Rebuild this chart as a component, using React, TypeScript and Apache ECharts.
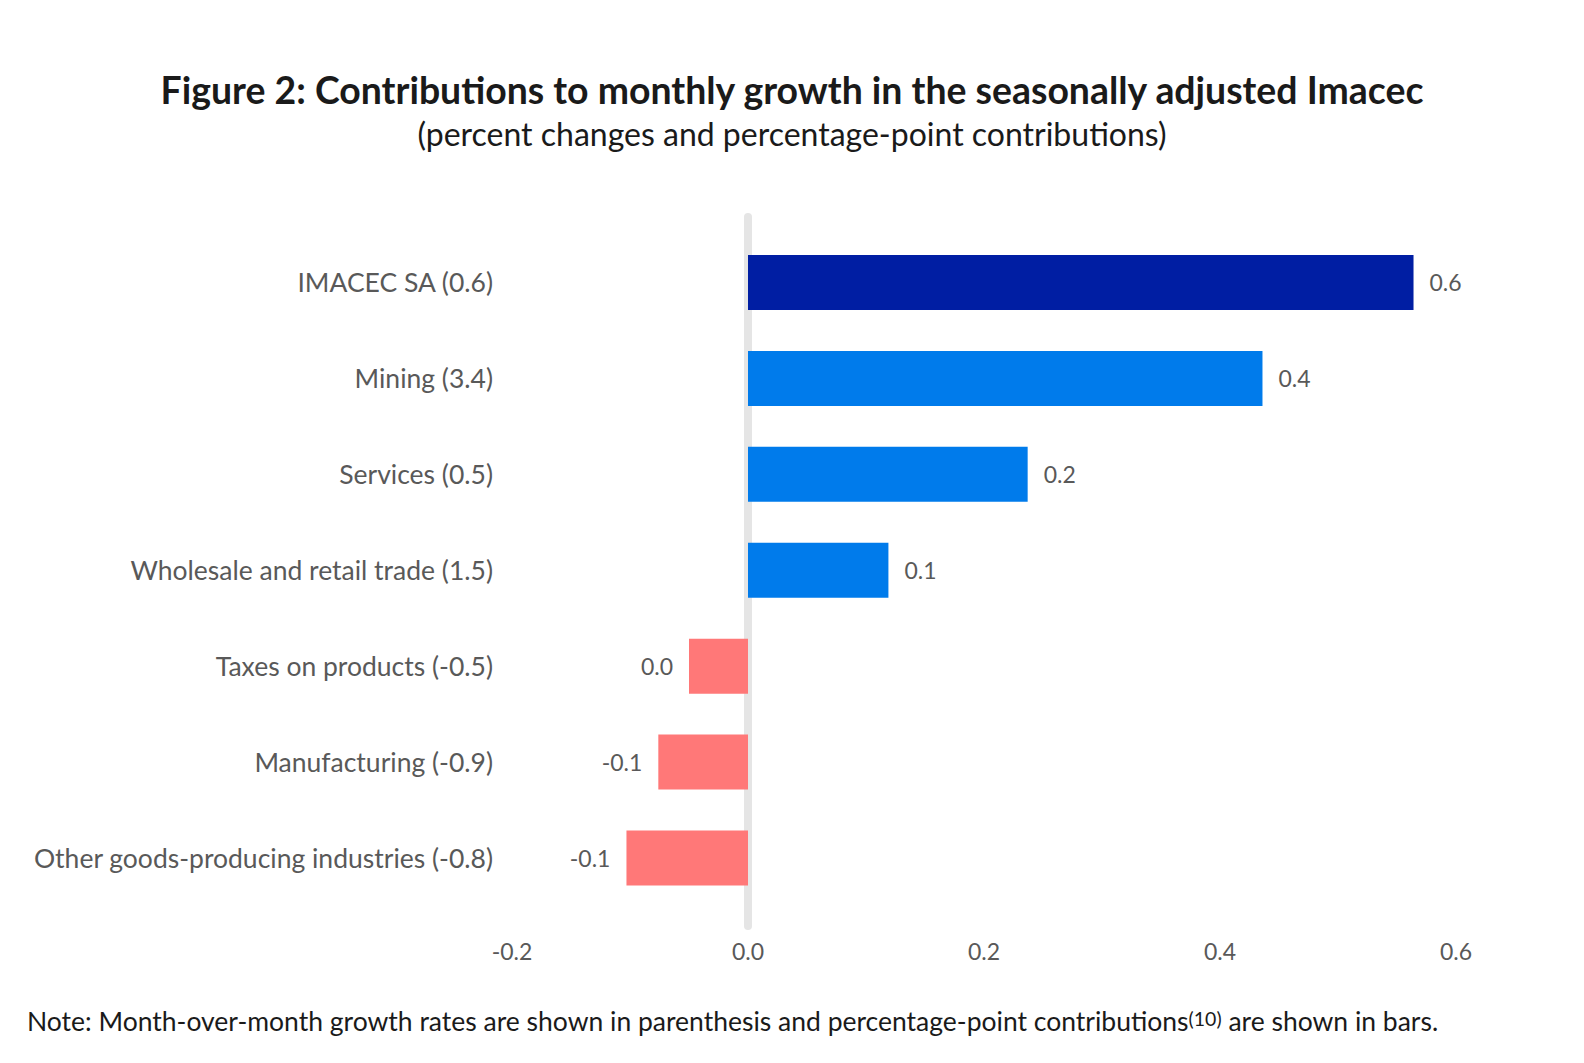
import React, { useEffect, useRef } from "react";
import * as echarts from "echarts";

const categories = [
  "IMACEC SA (0.6)",
  "Mining (3.4)",
  "Services (0.5)",
  "Wholesale and retail trade (1.5)",
  "Taxes on products (-0.5)",
  "Manufacturing (-0.9)",
  "Other goods-producing industries (-0.8)",
];
const contributions = [0.564, 0.436, 0.237, 0.119, -0.05, -0.076, -0.103];
const valueLabels = ["0.6", "0.4", "0.2", "0.1", "0.0", "-0.1", "-0.1"];
const barColors = ["#001EA3", "#007BEB", "#007BEB", "#007BEB", "#FF7878", "#FF7878", "#FF7878"];
const axisMin = -0.2;
const axisMax = 0.6;
const axisStep = 0.2;

const titleText = "Figure 2: Contributions to monthly growth in the seasonally adjusted Imacec";
const subtitleText = "(percent changes and percentage-point contributions)";
const noteA = "Note: Month-over-month growth rates are shown in parenthesis and percentage-point contributions";
const noteSup = "(10)";
const noteB = " are shown in bars.";

const FONT = "Lato, 'Noto Sans', sans-serif";

export default function App() {
  const ref = useRef<HTMLDivElement>(null);
  useEffect(() => {
    if (!ref.current) return;
    const chart = echarts.init(ref.current, undefined, { renderer: "svg" });
    chart.setOption({
      animation: false,
      backgroundColor: "#ffffff",
      textStyle: { fontFamily: FONT },
      title: [
        {
          text: titleText,
          left: "center",
          top: 63,
          textStyle: { fontFamily: FONT, fontSize: 37.4, fontWeight: "bold", color: "#1a1a1a", lineHeight: 42 },
        },
        {
          text: subtitleText,
          left: "center",
          top: 109,
          textStyle: { fontFamily: FONT, fontSize: 32, fontWeight: "normal", color: "#1a1a1a", lineHeight: 38 },
        },
        {
          text: `{a|${noteA}}{s|${noteSup}}{a|${noteB}}`,
          left: 22,
          top: 1000,
          textStyle: {
            fontFamily: FONT,
            fontWeight: "normal",
            rich: {
              a: { fontFamily: FONT, fontSize: 26.5, fontWeight: "normal", color: "#1a1a1a", lineHeight: 32 },
              s: {
                fontFamily: FONT,
                fontSize: 19.5,
                fontWeight: "normal",
                color: "#1a1a1a",
                lineHeight: 32,
                padding: [0, 0, 6, 0],
              },
            },
          },
        },
      ],
      grid: { left: 512, right: 1584 - 1456, top: 234.5, bottom: 1063 - 906, containLabel: false },
      xAxis: {
        type: "value",
        min: axisMin,
        max: axisMax,
        interval: axisStep,
        axisLine: { show: false },
        axisTick: { show: false },
        splitLine: { show: false },
        axisLabel: {
          fontFamily: FONT,
          fontSize: 23,
          color: "#595959",
          margin: 33,
          formatter: (v: number) => v.toFixed(1),
        },
      },
      yAxis: {
        type: "category",
        data: categories,
        inverse: true,
        axisLine: { show: false },
        axisTick: { show: false },
        splitLine: { show: false },
        axisLabel: { fontFamily: FONT, fontSize: 26.5, color: "#595959", margin: 19 },
      },
      series: [
        {
          type: "bar",
          barWidth: 55,
          data: contributions.map((v, i) => ({
            value: v,
            itemStyle: { color: barColors[i] },
            label: { position: v < 0 ? "left" : "right" },
          })),
          label: {
            show: true,
            fontFamily: FONT,
            fontSize: 23,
            color: "#595959",
            distance: 16,
            formatter: (p: any) => valueLabels[p.dataIndex],
          },
          z: 3,
        },
      ],
    });
    const x0 = chart.convertToPixel({ xAxisIndex: 0 }, 0) as number;
    chart.setOption({
      graphic: [
        {
          type: "rect",
          z: 0,
          shape: { x: x0 - 4, y: 213, width: 8, height: 717, r: 4 },
          style: { fill: "#e5e5e5" },
        },
      ],
    });
    return () => chart.dispose();
  }, []);
  return (
    <div
      ref={ref}
      style={{ position: "absolute", left: 0, top: 0, width: 1584, height: 1063 }}
    />
  );
}
